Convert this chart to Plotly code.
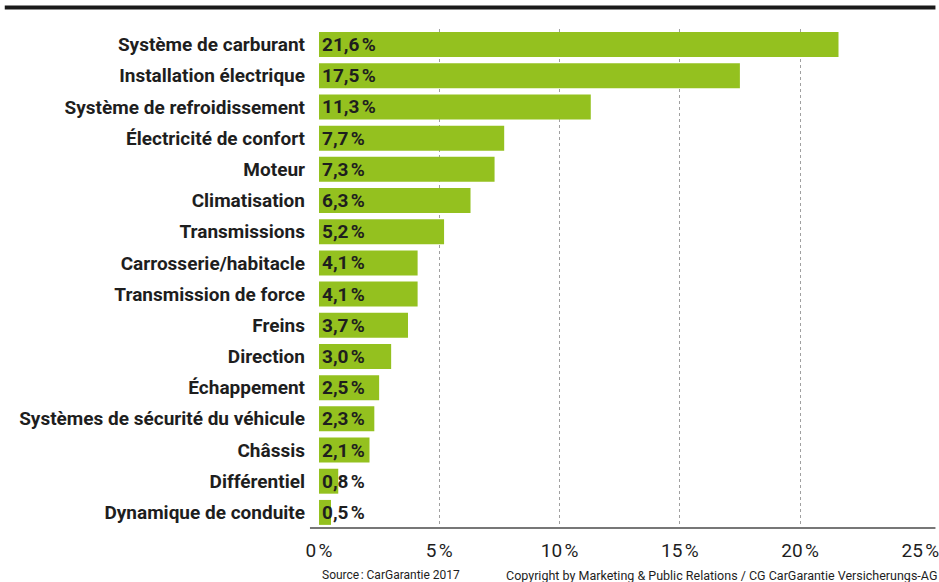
import plotly.graph_objects as go

categories = [
    "Système de carburant", "Installation électrique", "Système de refroidissement",
    "Électricité de confort", "Moteur", "Climatisation", "Transmissions",
    "Carrosserie/habitacle", "Transmission de force", "Freins", "Direction",
    "Échappement", "Systèmes de sécurité du véhicule", "Châssis", "Différentiel",
    "Dynamique de conduite",
]
shares = [21.6, 17.5, 11.3, 7.7, 7.3, 6.3, 5.2, 4.1, 4.1, 3.7, 3.0, 2.5, 2.3, 2.1, 0.8, 0.5]
tick_values = [0, 5, 10, 15, 20, 25]
tick_labels = ["0\u202f%", "5\u202f%", "10\u202f%", "15\u202f%", "20\u202f%", "25\u202f%"]

FONT = "Roboto, Liberation Sans, sans-serif"
GREEN = "#94c11f"
INK = "#1e1e1e"

def fmt(v):
    return f"{v:.1f}".replace(".", ",") + "\u202f%"

fig = go.Figure(
    go.Bar(
        x=shares,
        y=categories,
        orientation="h",
        marker=dict(color=GREEN, line=dict(width=0)),
        hoverinfo="skip",
    )
)

# value labels written at the start of each bar
for cat, v in zip(categories, shares):
    fig.add_annotation(
        x=0, y=cat, xref="x", yref="y", text=fmt(v), showarrow=False,
        xanchor="left", yanchor="middle", xshift=1,
        font=dict(family=FONT, size=19, color=INK, weight="bold"),
    )

# heavy rule across the top
fig.add_shape(type="line", xref="paper", yref="paper",
              x0=-0.522, x1=1.024, y0=1.043, y1=1.043,
              line=dict(color="#1a1a1a", width=4))
# baseline under the bars
fig.add_shape(type="line", xref="paper", yref="paper",
              x0=-0.015, x1=1.024, y0=0, y1=0,
              line=dict(color="#777777", width=2))

fig.add_annotation(xref="paper", yref="paper", x=0.002, y=-0.095,
                   text="Source\u202f: CarGarantie 2017", showarrow=False,
                   xanchor="left", yanchor="middle",
                   font=dict(family=FONT, size=12, color=INK))
fig.add_annotation(xref="paper", yref="paper", x=1.03, y=-0.095,
                   text="Copyright by Marketing & Public Relations / CG CarGarantie Versicherungs-AG",
                   showarrow=False, xanchor="right", yanchor="middle",
                   font=dict(family=FONT, size=12.5, color=INK))

fig.update_layout(
    template="none",
    width=939, height=582,
    margin=dict(l=319, r=18, t=29, b=54, autoexpand=False),
    paper_bgcolor="white", plot_bgcolor="white",
    bargap=0.2, showlegend=False,
    xaxis=dict(
        range=[0, 25.03], tickvals=tick_values, ticktext=tick_labels,
        showgrid=True, gridcolor="#a0a0a0", griddash="dot", gridwidth=1,
        zeroline=False, showline=False, ticks="", automargin=False,
        ticklabelstandoff=9, ticklabeloverflow="allow",
        tickfont=dict(family=FONT, size=19, color=INK),
        fixedrange=True,
    ),
    yaxis=dict(
        autorange="reversed", showgrid=False, zeroline=False, showline=False,
        ticks="", ticklabelstandoff=13, automargin=False,
        tickfont=dict(family=FONT, size=19, color=INK, weight="bold"),
        fixedrange=True,
    ),
)

fig.write_html("out.html")
